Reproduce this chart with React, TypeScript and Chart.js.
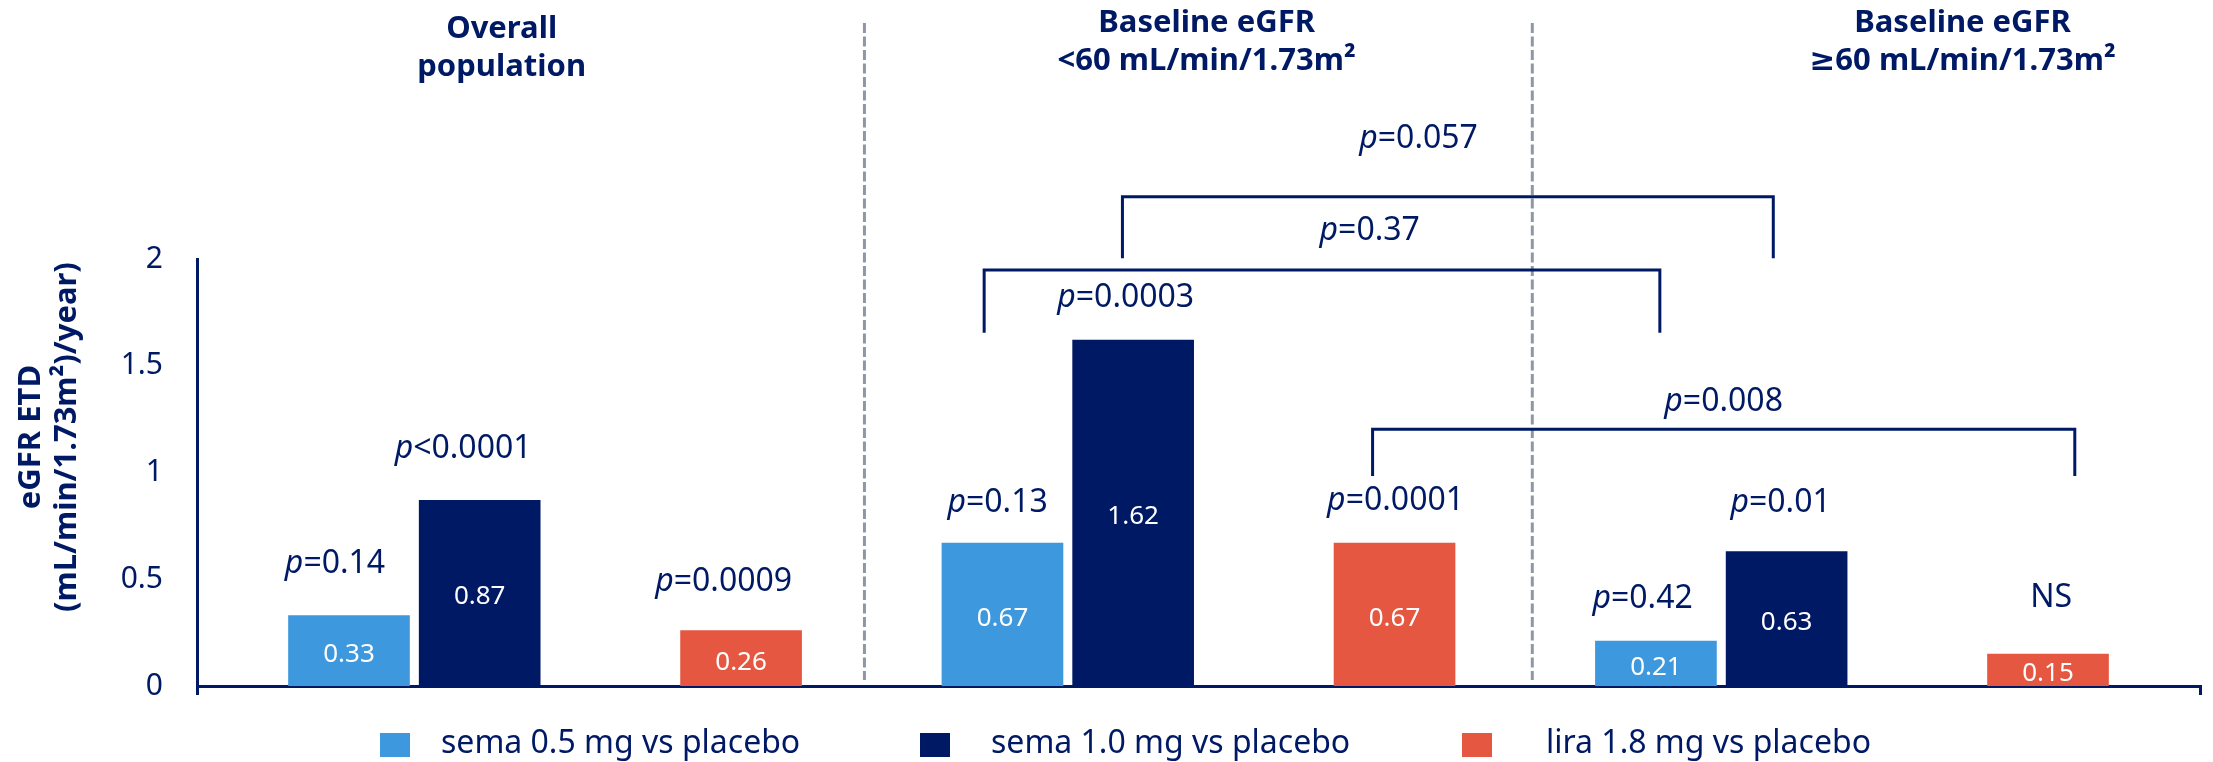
import React, { useEffect, useRef } from 'react';
import { Chart, registerables } from 'chart.js';

Chart.register(...registerables);

// ---------- data ----------
const groupTitles = [
  ['Overall', 'population'],
  ['Baseline eGFR', '<60 mL/min/1.73m²'],
  ['Baseline eGFR', '≥60 mL/min/1.73m²'],
];
const seriesNames = ['sema 0.5 mg vs placebo', 'sema 1.0 mg vs placebo', 'lira 1.8 mg vs placebo'];
const sema05 = [0.33, 0.67, 0.21];
const sema10 = [0.87, 1.62, 0.63];
const lira18 = [0.26, 0.67, 0.15];
const pSema05 = ['p=0.14', 'p=0.13', 'p=0.42'];
const pSema10 = ['p<0.0001', 'p=0.0003', 'p=0.01'];
const pLira18 = ['p=0.0009', 'p=0.0001', 'NS'];
const bracketP = ['p=0.057', 'p=0.37', 'p=0.008'];
const yTickValues = [0, 0.5, 1, 1.5, 2];
const yTickLabels = ['0', '0.5', '1', '1.5', '2'];
const yTitle = ['eGFR ETD', '(mL/min/1.73m²)/year)'];

// ---------- layout / style ----------
const FONT = '"Noto Sans", "DejaVu Sans", sans-serif';
const NAVY = '#001965';
const COLORS = ['#3d98de', '#001965', '#e55741'];
const GROUP_SLOTS = 5;
const SLOT_OFFSETS = [0, 1, 3];
const X_MIN = -1.163;
const X_MAX = 14.163;

// p-label anchor positions (x in slot units, y in value units: baseline)
const pPos = [
  [[-0.107, 0.529], [4.963, 0.816], [9.898, 0.364]],
  [[0.873, 1.067], [5.943, 1.777], [10.954, 0.816]],
  [[2.867, 0.446], [8.008, 0.824], [13.024, 0.371]],
];
const bracketPos = [
  { x1: 5.918, x2: 10.898, yTop: 2.292, yBottom: 2.003, lx: 8.184, ly: 2.518 },
  { x1: 4.86, x2: 10.03, yTop: 1.948, yBottom: 1.655, lx: 7.81, ly: 2.089 },
  { x1: 7.832, x2: 13.205, yTop: 1.202, yBottom: 0.984, lx: 10.518, ly: 1.289 },
];
const titlePos = [
  { x: 1.168, y1: 3.036, y2: 2.857 },
  { x: 6.562, y1: 3.062, y2: 2.885 },
  { x: 12.346, y1: 3.062, y2: 2.885 },
];
const dividerX = [3.944, 9.054];
const dividerY = [3.105, 0.028];
const legendBoxX = [380, 920, 1462];
const legendTextX = [441, 991, 1546];

function drawPText(ctx: CanvasRenderingContext2D, text: string, cx: number, baseline: number, size: number) {
  const it = text.startsWith('p') ? 'p' : '';
  const rest = text.slice(it.length);
  const fItalic = `italic ${size}px ${FONT}`;
  const fReg = `${size}px ${FONT}`;
  ctx.font = fItalic;
  const w1 = it ? ctx.measureText(it).width : 0;
  ctx.font = fReg;
  const w2 = ctx.measureText(rest).width;
  const x = cx - (w1 + w2) / 2;
  ctx.textAlign = 'left';
  ctx.textBaseline = 'alphabetic';
  ctx.fillStyle = NAVY;
  if (it) {
    ctx.font = fItalic;
    ctx.fillText(it, x, baseline);
  }
  ctx.font = fReg;
  ctx.fillText(rest, x + w1, baseline);
}

const annotPlugin = {
  id: 'annot',
  afterDatasetsDraw(chart: any) {
    const ctx: CanvasRenderingContext2D = chart.ctx;
    ctx.save();
    ctx.fillStyle = '#ffffff';
    ctx.font = `26px ${FONT}`;
    ctx.textAlign = 'center';
    ctx.textBaseline = 'alphabetic';
    chart.data.datasets.forEach((ds: any, di: number) => {
      const meta = chart.getDatasetMeta(di);
      meta.data.forEach((el: any, i: number) => {
        const v = ds.data[i].y;
        const cy = (el.y + el.base) / 2 + 2;
        ctx.fillText(v.toFixed(2), el.x, cy + 0.357 * 26);
      });
    });
    ctx.restore();
  },
  afterDraw(chart: any) {
    const ctx: CanvasRenderingContext2D = chart.ctx;
    const xs = chart.scales.x;
    const ys = chart.scales.y;
    const X = (v: number) => xs.getPixelForValue(v);
    const Y = (v: number) => ys.getPixelForValue(v);
    ctx.save();

    // dividers
    ctx.strokeStyle = '#8f97a6';
    ctx.lineWidth = 3;
    ctx.setLineDash([10, 3.5]);
    dividerX.forEach((dx) => {
      ctx.beginPath();
      ctx.moveTo(X(dx), Y(dividerY[0]));
      ctx.lineTo(X(dx), Y(dividerY[1]));
      ctx.stroke();
    });
    ctx.setLineDash([]);

    // group titles
    ctx.fillStyle = NAVY;
    ctx.font = `bold 31px ${FONT}`;
    ctx.textAlign = 'center';
    ctx.textBaseline = 'alphabetic';
    groupTitles.forEach((lines, g) => {
      const p = titlePos[g];
      ctx.fillText(lines[0], X(p.x), Y(p.y1));
      ctx.fillText(lines[1], X(p.x), Y(p.y2));
    });

    // brackets
    ctx.strokeStyle = NAVY;
    ctx.lineWidth = 3;
    bracketPos.forEach((b, i) => {
      ctx.beginPath();
      ctx.moveTo(X(b.x1), Y(b.yBottom));
      ctx.lineTo(X(b.x1), Y(b.yTop));
      ctx.lineTo(X(b.x2), Y(b.yTop));
      ctx.lineTo(X(b.x2), Y(b.yBottom));
      ctx.stroke();
      drawPText(ctx, bracketP[i], X(b.lx), Y(b.ly), 32);
    });

    // p-values above bars
    [pSema05, pSema10, pLira18].forEach((arr, s) => {
      arr.forEach((t, g) => {
        const [px, py] = pPos[s][g];
        drawPText(ctx, t, X(px), Y(py), 32);
      });
    });

    // y-axis title
    ctx.fillStyle = NAVY;
    ctx.font = `bold 31px ${FONT}`;
    ctx.textAlign = 'center';
    ctx.textBaseline = 'middle';
    const ty = Y(1.166);
    [31, 67].forEach((tx, i) => {
      ctx.save();
      ctx.translate(tx, ty);
      ctx.rotate(-Math.PI / 2);
      ctx.fillText(yTitle[i], 0, 0);
      ctx.restore();
    });

    // legend
    ctx.font = `32px ${FONT}`;
    ctx.textAlign = 'left';
    ctx.textBaseline = 'alphabetic';
    seriesNames.forEach((name, i) => {
      ctx.fillStyle = COLORS[i];
      ctx.fillRect(legendBoxX[i], 733, 30, 24);
      ctx.fillStyle = NAVY;
      ctx.fillText(name, legendTextX[i], 753);
    });

    ctx.restore();
  },
};

export default function App() {
  const ref = useRef<HTMLCanvasElement>(null);
  useEffect(() => {
    const canvas = ref.current!;
    Chart.defaults.font.family = FONT;
    const mk = (vals: number[], off: number) => vals.map((v, g) => ({ x: g * GROUP_SLOTS + off, y: v }));
    const chart = new Chart(canvas, {
      type: 'bar',
      data: {
        datasets: [
          { label: seriesNames[0], data: mk(sema05, SLOT_OFFSETS[0]), backgroundColor: COLORS[0] },
          { label: seriesNames[1], data: mk(sema10, SLOT_OFFSETS[1]), backgroundColor: COLORS[1] },
          { label: seriesNames[2], data: mk(lira18, SLOT_OFFSETS[2]), backgroundColor: COLORS[2] },
        ] as any,
      },
      options: {
        responsive: false,
        animation: false,
        devicePixelRatio: 1,
        layout: { padding: { top: 259, right: 13, bottom: 67, left: 0 } },
        datasets: { bar: { grouped: false, barThickness: 121 } } as any,
        plugins: { legend: { display: false }, tooltip: { enabled: false } },
        scales: {
          x: {
            type: 'linear',
            min: X_MIN,
            max: X_MAX,
            offset: false,
            z: 1,
            grid: { display: true, drawOnChartArea: false, drawTicks: true, tickLength: 9, color: NAVY, lineWidth: 3, offset: false },
            border: { display: true, color: NAVY, width: 3 },
            ticks: { display: false },
            afterBuildTicks: (s: any) => { s.ticks = [{ value: X_MIN }, { value: X_MAX }]; },
            afterFit: (s: any) => { s.height = 9; },
          } as any,
          y: {
            min: 0,
            max: 2,
            z: 1,
            grid: { display: false, drawTicks: false },
            border: { display: true, color: NAVY, width: 3 },
            ticks: { color: NAVY, font: { size: 30, family: FONT }, padding: 34, callback: (_v: any, i: number) => yTickLabels[i] },
            afterBuildTicks: (s: any) => { s.ticks = yTickValues.map((v) => ({ value: v })); },
            afterFit: (s: any) => { s.width = 197; },
          } as any,
        },
      },
      plugins: [annotPlugin],
    });
    return () => chart.destroy();
  }, []);
  return (
    <canvas
      ref={ref}
      width={2213}
      height={762}
      style={{ position: 'absolute', left: 0, top: 0, display: 'block', width: 2213, height: 762 }}
    />
  );
}
